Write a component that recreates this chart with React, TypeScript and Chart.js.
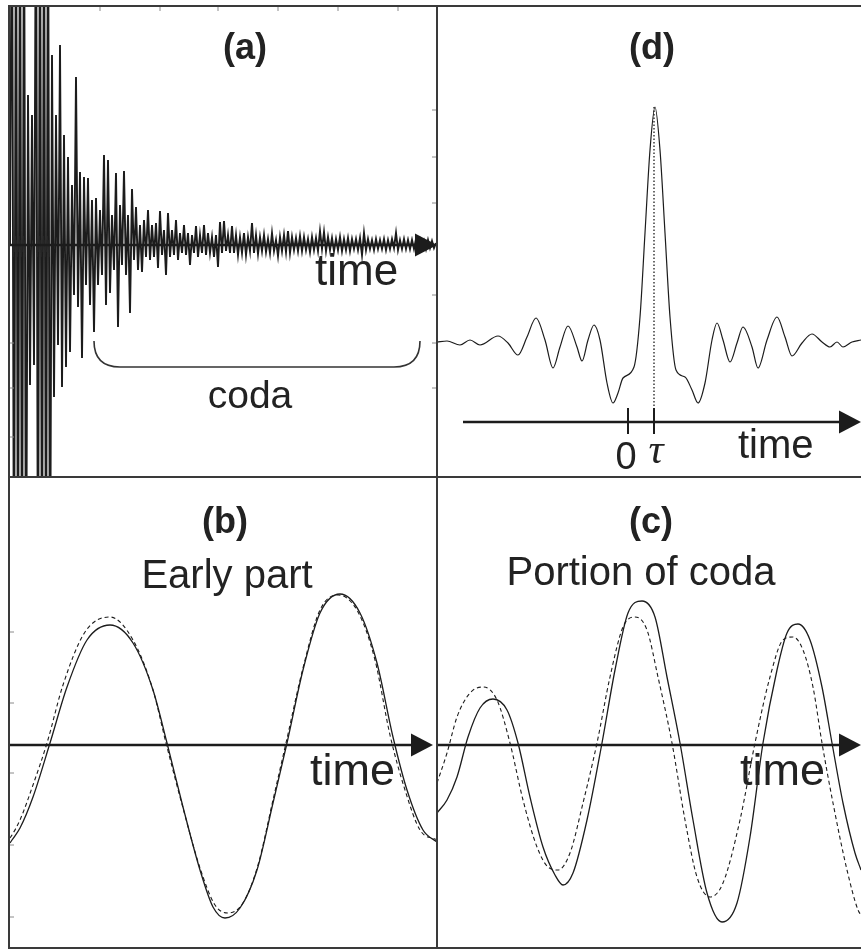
import React, { useEffect, useRef } from "react";
import { Chart, registerables } from "chart.js";

Chart.register(...registerables);

// ---------------- Panel (a): whole record (uniformly sampled) ----------------
const A_START = 1; // time of the first sample
const A_STEP = 2; // sampling interval
const aAmplitude = [
  0, 400, -400, 400, -400, 400, -400, 400, -400, 150,
  -140, 130, -120, 400, -400, 400, -400, 400, -400, 400,
  -400, 190, -152, 130, -100, 200, -142, 110, -122, 88,
  -107, 60, -50, 168, -62, 73, -113, 68, -40, 67,
  -60, 45, -87, 47, -40, 35, -30, 90, -60, 85,
  -48, 30, -25, 72, -82, 40, -20, 74, -30, 30,
  -68, 56, -15, 38, -25, 20, -27, 25, -12, 35,
  -15, 20, -12, 22, -23, 34, -10, 15, -30, 32,
  -12, 15, -10, 25, -15, 12, -8, 20, -10, 12,
  -20, 10, -8, 19, -12, 10, -8, 20, -10, 12,
  -8, 8, -12, 10, -22, 23, -8, 24, -6, 10,
  -8, 19, -8, 10, -10, 8, -8, 12, -10, 8,
  -6, 22, -8, 10, -9, 8, -6, 10, -7, 6,
  -8, 12, -6, 5, -11, 8, -6, 10, -7, 14,
  -8, 8, -5, 7, -6, 9, -6, 8, -5, 6,
  -7, 8, -5, 7, -6, 14, -4, 13, -6, 8,
  -5, 7, -6, 6, -5, 8, -6, 6, -5, 7,
  -6, 6, -4, 6, -5, 7, -10, 12, -5, 6,
  -4, 5, -5, 6, -4, 5, -4, 6, -5, 5,
  -4, 6, -3, 12, -5, 5, -4, 6, -4, 5,
  -4, 5, -4, 6, -4, 5, -3, 4, -4, 5,
  -3, 4, -3, 2,
];
const aTimeRange = [-1, 429];
const aAmpRange = [-233, 240];
const aCodaStart = 85;
const aCodaEnd = 411;
const aCodaLevel = -122;
const aEdgeTicks = [135, 88, 42, -50, -98, -143];
const aTopTicks = [91, 151, 209, 269, 329, 389];

// ---------------- Panel (b): early part ----------------
const bSolidT = [1, 3, 11, 24, 41, 58, 78, 101, 124, 144, 158, 174, 191, 204, 216, 231, 248, 264, 278, 294, 311, 331, 351, 368, 384, 398, 414, 428];
const bSolidV = [-98, -95, -83, -52, 2, 58, 105, 120, 102, 55, 2, -62, -125, -162, -173, -163, -125, -58, 2, 75, 132, 151, 132, 82, 8, -45, -85, -97];
const bDashT = [1, 3, 11, 24, 38, 54, 76, 101, 124, 144, 157, 174, 191, 206, 219, 234, 249, 264, 277, 294, 311, 329, 349, 366, 381, 396, 411, 428];
const bDashV = [-93, -90, -75, -40, 2, 60, 113, 128, 105, 55, 2, -63, -123, -160, -168, -158, -120, -55, 2, 77, 135, 150, 133, 85, 10, -45, -85, -95];
const bTimeRange = [-1, 429];
const bAmpRange = [-204, 269];
const bEdgeTicks = [113, 42, -28, -100, -172];

// ---------------- Panel (c): portion of coda ----------------
const cSolidT = [0, 10, 20, 31, 43, 56, 70, 81, 93, 106, 118, 126, 136, 150, 165, 178, 191, 205, 218, 230, 243, 256, 270, 285, 300, 313, 326, 340, 350, 361, 373, 385, 395, 406, 418, 424];
const cSolidV = [-68, -55, -32, 8, 37, 46, 35, 2, -52, -102, -130, -140, -128, -75, 2, 75, 132, 144, 128, 68, 2, -75, -148, -177, -158, -92, 2, 75, 112, 121, 105, 58, 2, -58, -108, -125];
const cDashT = [0, 10, 20, 33, 46, 60, 73, 86, 100, 111, 121, 133, 146, 160, 173, 186, 198, 210, 221, 235, 248, 260, 273, 286, 303, 318, 333, 346, 356, 366, 376, 385, 396, 410, 421, 424];
const cDashV = [-38, -8, 28, 52, 58, 45, 2, -55, -102, -122, -125, -108, -58, 2, 68, 118, 128, 115, 68, 2, -75, -132, -152, -138, -75, 2, 68, 105, 108, 95, 58, 2, -58, -125, -165, -170];
const cTimeRange = [-1, 424];
const cAmpRange = [-204, 269];

// ---------------- Panel (d): cross-correlation ----------------
const dLagT = [-191, -181, -168, -158, -148, -130, -120, -110, -101, -92, -83, -75, -68, -60, -51, -46, -40, -34, -28, -21, -15, -10, -5, 6, 12, 17, 22, 27, 32, 37, 42, 48, 57, 64, 70, 77, 84, 89, 95, 102, 109, 115, 124, 130, 139, 149, 157, 164, 174, 184, 194, 202, 209, 215, 224, 233];
const dCorr = [0, 1, -3, 2, -3, 6, -1, -13, 5, 24, 2, -26, -5, 16, -5, -19, 2, 17, 2, -41, -61, -51, -36, -25, 25, 109, 192, 235, 192, 109, 25, -28, -35, -48, -61, -41, 2, 19, 2, -20, -1, 15, -5, -26, 2, 25, 5, -14, -1, 8, 0, -5, 0, -5, 0, 2];
const dTimeRange = [-192, 233];
const dAmpRange = [-136, 337];
const dAxisLevel = -80;
const dAxisStart = -165;
const dTau = 26;
const dPeak = 235;

const INK = "#1c1c1c";
const FRAME = "#3a3a3a";
const SANS = '"Liberation Sans", Arial, Helvetica, sans-serif';
const SERIF = '"Liberation Serif", "Times New Roman", serif';

type Label = { text: string; t: number; v: number; font: string; align: CanvasTextAlign };
type Series = { t: number[]; v: number[]; dash?: number[]; width: number; smooth: boolean };
type Panel = {
  key: string;
  left: number;
  top: number;
  width: number;
  height: number;
  xRange: number[];
  yRange: number[];
  series: Series[];
  axis: { v: number; from: number; to: number };
  labels: Label[];
  rightEdge: boolean;
  leftTicks?: number[];
  rightTicks?: number[];
  topTicks?: number[];
  extra?: (ctx: CanvasRenderingContext2D, X: (t: number) => number, Y: (v: number) => number) => void;
};

const toPoints = (t: number[], v: number[]) => t.map((x, i) => ({ x, y: v[i] }));

const panels: Panel[] = [
  {
    key: "a",
    left: 8,
    top: 5,
    width: 430,
    height: 473,
    xRange: aTimeRange,
    yRange: aAmpRange,
    series: [
      {
        t: aAmplitude.map((_, i) => A_START + i * A_STEP),
        v: aAmplitude,
        width: 1.9,
        smooth: false,
      },
    ],
    axis: { v: 0, from: 1, to: 428 },
    labels: [
      { text: "(a)", t: 236, v: 186, font: `bold 36px ${SANS}`, align: "center" },
      { text: "time", t: 306, v: -40, font: `44px ${SANS}`, align: "left" },
      { text: "coda", t: 241, v: -163, font: `39px ${SANS}`, align: "center" },
    ],
    rightEdge: true,
    leftTicks: [-98, -143, -192],
    rightTicks: aEdgeTicks,
    topTicks: aTopTicks,
    extra: (ctx, X, Y) => {
      // bracket marking the coda
      const r = 26;
      ctx.strokeStyle = "#333";
      ctx.lineWidth = 1.6;
      ctx.beginPath();
      ctx.moveTo(X(aCodaStart), Y(aCodaLevel + r));
      ctx.quadraticCurveTo(X(aCodaStart), Y(aCodaLevel), X(aCodaStart + r), Y(aCodaLevel));
      ctx.lineTo(X(aCodaEnd - r), Y(aCodaLevel));
      ctx.quadraticCurveTo(X(aCodaEnd), Y(aCodaLevel), X(aCodaEnd), Y(aCodaLevel + r));
      ctx.stroke();
    },
  },
  {
    key: "d",
    left: 436,
    top: 5,
    width: 425,
    height: 473,
    xRange: dTimeRange,
    yRange: dAmpRange,
    series: [{ t: dLagT, v: dCorr, width: 1.2, smooth: true }],
    axis: { v: dAxisLevel, from: dAxisStart, to: 233 },
    labels: [
      { text: "(d)", t: 24, v: 283, font: `bold 36px ${SANS}`, align: "center" },
      { text: "0", t: -2, v: -127, font: `38px ${SANS}`, align: "center" },
      { text: "τ", t: 28, v: -121, font: `italic 42px ${SERIF}`, align: "center" },
      { text: "time", t: 110, v: -116, font: `40px ${SANS}`, align: "left" },
    ],
    rightEdge: false,
    extra: (ctx, X, Y) => {
      ctx.strokeStyle = INK;
      ctx.lineWidth = 2;
      for (const t of [0, dTau]) {
        ctx.beginPath();
        ctx.moveTo(X(t), Y(dAxisLevel + 14));
        ctx.lineTo(X(t), Y(dAxisLevel - 12));
        ctx.stroke();
      }
      ctx.lineWidth = 1.3;
      ctx.setLineDash([1.5, 2]);
      ctx.beginPath();
      ctx.moveTo(X(dTau), Y(dPeak));
      ctx.lineTo(X(dTau), Y(dAxisLevel + 14));
      ctx.stroke();
      ctx.setLineDash([]);
    },
  },
  {
    key: "b",
    left: 8,
    top: 476,
    width: 430,
    height: 473,
    xRange: bTimeRange,
    yRange: bAmpRange,
    series: [
      { t: bSolidT, v: bSolidV, width: 1.3, smooth: true },
      { t: bDashT, v: bDashV, width: 1.1, smooth: true, dash: [4, 3] },
    ],
    axis: { v: 0, from: 1, to: 424 },
    labels: [
      { text: "(b)", t: 216, v: 212, font: `bold 36px ${SANS}`, align: "center" },
      { text: "Early part", t: 218, v: 157, font: `40px ${SANS}`, align: "center" },
      { text: "time", t: 301, v: -40, font: `45px ${SANS}`, align: "left" },
    ],
    rightEdge: true,
    leftTicks: bEdgeTicks,
  },
  {
    key: "c",
    left: 436,
    top: 476,
    width: 425,
    height: 473,
    xRange: cTimeRange,
    yRange: cAmpRange,
    series: [
      { t: cSolidT, v: cSolidV, width: 1.3, smooth: true },
      { t: cDashT, v: cDashV, width: 1.1, smooth: true, dash: [4, 3] },
    ],
    axis: { v: 0, from: 0, to: 424 },
    labels: [
      { text: "(c)", t: 214, v: 212, font: `bold 36px ${SANS}`, align: "center" },
      { text: "Portion of coda", t: 204, v: 160, font: `40px ${SANS}`, align: "center" },
      { text: "time", t: 303, v: -40, font: `45px ${SANS}`, align: "left" },
    ],
    rightEdge: false,
  },
];

function overlayPlugin(p: Panel) {
  return {
    id: "overlay_" + p.key,
    afterDatasetsDraw(chart: any) {
      const ctx: CanvasRenderingContext2D = chart.ctx;
      const xs = chart.scales.x;
      const ys = chart.scales.y;
      const X = (t: number) => xs.getPixelForValue(t);
      const Y = (v: number) => ys.getPixelForValue(v);
      const w = chart.width;
      const h = chart.height;
      ctx.save();

      if (p.extra) p.extra(ctx, X, Y);

      // time axis with arrow
      const ay = Y(p.axis.v);
      const x0 = X(p.axis.from);
      const x1 = X(p.axis.to);
      ctx.strokeStyle = INK;
      ctx.fillStyle = INK;
      ctx.lineWidth = 2.4;
      ctx.beginPath();
      ctx.moveTo(x0, ay);
      ctx.lineTo(x1 - 16, ay);
      ctx.stroke();
      ctx.beginPath();
      ctx.moveTo(x1, ay);
      ctx.lineTo(x1 - 22, ay - 11.5);
      ctx.lineTo(x1 - 22, ay + 11.5);
      ctx.closePath();
      ctx.fill();

      // labels
      ctx.textBaseline = "alphabetic";
      for (const l of p.labels) {
        ctx.font = l.font;
        ctx.textAlign = l.align;
        ctx.fillStyle = "#222";
        ctx.fillText(l.text, X(l.t), Y(l.v));
      }

      // frame
      ctx.strokeStyle = FRAME;
      ctx.lineWidth = 2;
      ctx.beginPath();
      ctx.moveTo(1, h);
      ctx.lineTo(1, 1);
      ctx.lineTo(w, 1);
      ctx.moveTo(0, h - 1);
      ctx.lineTo(w, h - 1);
      if (p.rightEdge) {
        ctx.moveTo(w - 1, 0);
        ctx.lineTo(w - 1, h);
      }
      ctx.stroke();

      // faint frame ticks
      ctx.strokeStyle = "#8a8a8a";
      ctx.lineWidth = 1;
      ctx.beginPath();
      for (const v of p.leftTicks || []) {
        ctx.moveTo(2, Y(v));
        ctx.lineTo(6, Y(v));
      }
      for (const v of p.rightTicks || []) {
        ctx.moveTo(w - 2, Y(v));
        ctx.lineTo(w - 6, Y(v));
      }
      for (const t of p.topTicks || []) {
        ctx.moveTo(X(t), 2);
        ctx.lineTo(X(t), 6);
      }
      ctx.stroke();
      ctx.restore();
    },
  };
}

function PanelChart({ p }: { p: Panel }) {
  const ref = useRef<HTMLCanvasElement | null>(null);
  useEffect(() => {
    if (!ref.current) return;
    const chart = new Chart(ref.current, {
      type: "line",
      data: {
        datasets: p.series.map((s, i) => ({
          label: p.key + i,
          data: toPoints(s.t, s.v),
          borderColor: INK,
          borderWidth: s.width,
          borderDash: s.dash || [],
          pointRadius: 0,
          fill: false,
          tension: 0,
          cubicInterpolationMode: s.smooth ? "monotone" : "default",
        })),
      },
      options: {
        responsive: false,
        maintainAspectRatio: false,
        animation: false,
        events: [],
        layout: { padding: 0 },
        plugins: { legend: { display: false }, tooltip: { enabled: false } },
        scales: {
          x: { type: "linear", display: false, min: p.xRange[0], max: p.xRange[1] },
          y: { type: "linear", display: false, min: p.yRange[0], max: p.yRange[1] },
        },
      } as any,
      plugins: [overlayPlugin(p)],
    } as any);
    return () => chart.destroy();
  }, [p]);
  return (
    <canvas
      ref={ref}
      width={p.width}
      height={p.height}
      style={{ position: "absolute", left: p.left, top: p.top, width: p.width, height: p.height }}
    />
  );
}

export default function App() {
  return (
    <div style={{ position: "absolute", left: 0, top: 0, width: 861, height: 950, background: "#fff", overflow: "hidden" }}>
      {panels.map((p) => (
        <PanelChart key={p.key} p={p} />
      ))}
    </div>
  );
}
